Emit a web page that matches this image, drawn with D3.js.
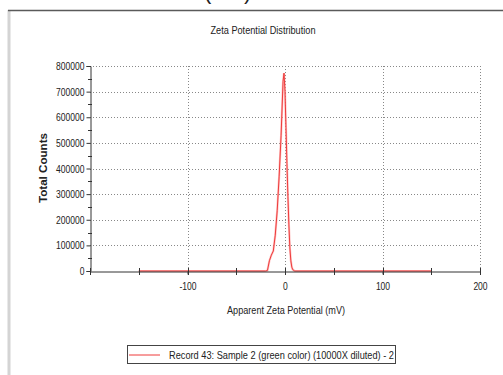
<!DOCTYPE html>
<html><head><meta charset="utf-8">
<script src="https://cdn.jsdelivr.net/npm/d3@7"></script>
<style>
body{margin:0;background:#fff;}
text{font-family:"Liberation Sans",Arial,sans-serif;fill:#222;}
</style></head>
<body><svg id="c" width="503" height="375"></svg>
<script>
const potential = [-150,-20,-18,-16,-14,-12,-10,-8,-6,-4,-2,-1,0,1,2,3,4,5,6,7,8,10,150];
const counts    = [0,0,2000,40000,62000,78000,140000,235000,370000,530000,740000,772000,700000,560000,420000,290000,180000,90000,40000,15000,5000,0,0];
const xTicks = [-100,0,100,200];
const yTicks = [0,100000,200000,300000,400000,500000,600000,700000,800000];
const title = "Zeta Potential Distribution";
const xLabel = "Apparent Zeta Potential (mV)";
const yLabel = "Total Counts";
const legendLabel = "Record 43: Sample 2 (green color) (10000X diluted) -  2";

const svg = d3.select("#c");
const W=503,H=375;
const x = d3.scaleLinear().domain([-200,200]).range([90,480]);
const y = d3.scaleLinear().domain([0,800000]).range([271,66]);

function fitTo(sel, w){
  const n = sel.node().getComputedTextLength();
  sel.attr("textLength", w).attr("lengthAdjust","spacingAndGlyphs");
  return w/n;
}
function condense(sel, f){
  sel.each(function(){
    const n = this.getComputedTextLength();
    d3.select(this).attr("textLength", n*f).attr("lengthAdjust","spacingAndGlyphs");
  });
}
const FS = 11;

// frame
svg.append("line").attr("x1",9).attr("x2",9).attr("y1",10).attr("y2",H).attr("stroke","#d4d4d4").attr("stroke-width",3);
svg.append("line").attr("x1",8).attr("x2",W).attr("y1",10.5).attr("y2",10.5).attr("stroke","#5a5a5a").attr("stroke-width",1.5);
svg.append("text").attr("x",204).attr("y",-1).attr("font-size",22).text("(");
svg.append("text").attr("x",244).attr("y",-1).attr("font-size",22).text(")");

// title
fitTo(svg.append("text").attr("x",263).attr("y",33.5).attr("text-anchor","middle").attr("font-size",FS).text(title), 105);

// grid
const g = svg.append("g");
g.selectAll(".hg").data(yTicks.filter(d=>d>0)).enter().append("line")
 .attr("x1",x(-200)).attr("x2",x(200)).attr("y1",d=>Math.round(y(d))+0.5).attr("y2",d=>Math.round(y(d))+0.5)
 .attr("stroke","#888").attr("stroke-dasharray","1,2");
g.selectAll(".vg").data(xTicks).enter().append("line")
 .attr("x1",d=>Math.round(x(d))+0.5).attr("x2",d=>Math.round(x(d))+0.5).attr("y1",y(800000)).attr("y2",y(0))
 .attr("stroke","#888").attr("stroke-dasharray","1,2");

// data line
const line = d3.line().x((d,i)=>x(potential[i])).y(d=>y(d));
svg.append("path").datum(counts).attr("d",line).attr("fill","none").attr("stroke","#ff9a9a").attr("stroke-width",2.2).attr("opacity",0.6);
svg.append("path").datum(counts).attr("d",line).attr("fill","none").attr("stroke","#ee3b3b").attr("stroke-width",1);

// axes
const yAxis = d3.axisLeft(y).tickValues(yTicks).tickSize(4).tickFormat(d=>String(d));
const ya = svg.append("g").attr("transform","translate(90.5,0)").call(yAxis);
ya.select(".domain").attr("stroke","#333");
ya.selectAll(".tick line").attr("stroke","#333");
ya.selectAll("text").attr("font-size",FS).attr("fill","#222").attr("dx",1).attr("font-family","Liberation Sans, Arial, sans-serif");
// probe factor from widest label
const probe = svg.append("text").attr("font-size",FS).text("800000");
const tickF = 28.5 / probe.node().getComputedTextLength();
probe.remove();
condense(ya.selectAll("text"), tickF);
svg.append("g").selectAll("line").data(d3.range(50000,800000,100000)).enter().append("line")
 .attr("x1",88).attr("x2",92).attr("y1",d=>Math.round(y(d))+0.5).attr("y2",d=>Math.round(y(d))+0.5).attr("stroke","#333");

const xAxis = d3.axisBottom(x).tickValues(xTicks).tickSize(3).tickFormat(d=>String(d));
const xa = svg.append("g").attr("transform","translate(0,271.5)").call(xAxis);
xa.select(".domain").attr("stroke","#333");
xa.selectAll(".tick line").attr("stroke","#333");
xa.selectAll("text").attr("font-size",FS).attr("fill","#222").attr("dy","1.15em").attr("font-family","Liberation Sans, Arial, sans-serif");
condense(xa.selectAll("text"), tickF);
svg.append("g").selectAll("line").data(d3.range(-200,201,50)).enter().append("line")
 .attr("x1",d=>Math.round(x(d))+0.5).attr("x2",d=>Math.round(x(d))+0.5).attr("y1",268).attr("y2",275).attr("stroke","#333");

// axis labels
fitTo(svg.append("text").attr("x",286).attr("y",313.5).attr("text-anchor","middle").attr("font-size",FS).text(xLabel), 118);
fitTo(svg.append("text").attr("transform","translate(47,168) rotate(-90)").attr("text-anchor","middle").attr("font-size",FS).attr("font-weight","bold").text(yLabel), 70);

// legend
const lg = svg.append("g");
lg.append("rect").attr("x",127.5).attr("y",345.5).attr("width",268).attr("height",18).attr("fill","#fff").attr("stroke","#444");
lg.append("line").attr("x1",129).attr("x2",160).attr("y1",355).attr("y2",355).attr("stroke","#ee3b3b");
fitTo(lg.append("text").attr("x",169).attr("y",359).attr("font-size",FS).text(legendLabel), 225);
</script></body></html>
